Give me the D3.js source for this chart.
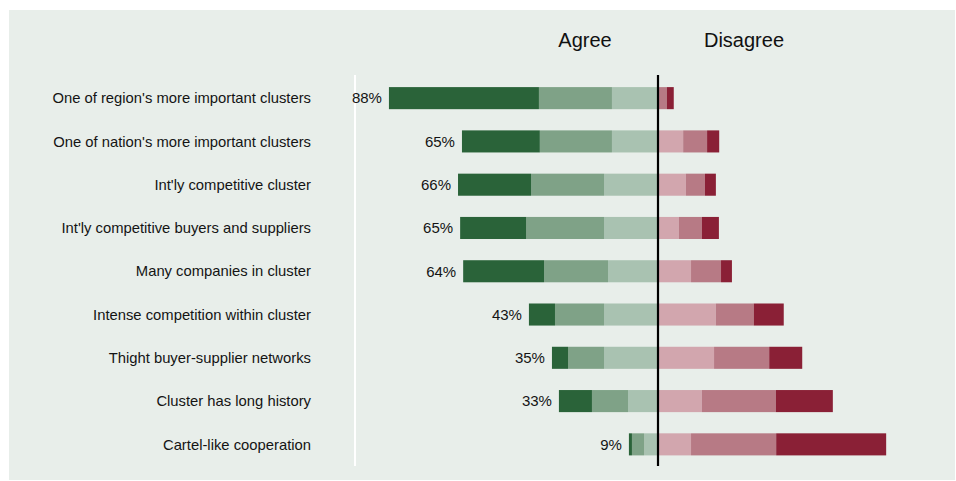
<!DOCTYPE html>
<html>
<head>
<meta charset="utf-8">
<script src="https://cdn.jsdelivr.net/npm/d3@7"></script>
<style>
  html, body { margin: 0; padding: 0; background: #fff; }
  svg { display: block; font-family: "Liberation Sans", Arial, sans-serif; }
</style>
</head>
<body>
<div id="chart"></div>
<script>
const categories = [
  "One of region's more important clusters",
  "One of nation's more important clusters",
  "Int'ly competitive cluster",
  "Int'ly competitive buyers and suppliers",
  "Many companies in cluster",
  "Intense competition within cluster",
  "Thight buyer-supplier networks",
  "Cluster has long history",
  "Cartel-like cooperation"
];
const agreeTotals = [88, 65, 66, 65, 64, 43, 35, 33, 9];
// agree segments, from the centre outward: somewhat, mostly, fully
const agreeLight = [15.2, 15.2, 17.8, 17.8, 16.5, 17.8, 17.8, 9.9, 4.6];
const agreeMid   = [24.1, 23.8, 24.1, 25.7, 21.1, 16.2, 11.9, 11.9, 4.0];
const agreeDark  = [49.5, 25.7, 24.1, 21.8, 26.7, 8.6, 5.3, 10.9, 1.0];
// disagree segments, from the centre outward
const disLight = [0.3, 8.3, 9.2, 6.9, 10.9, 19.1, 18.5, 14.5, 10.9];
const disMid   = [2.6, 7.9, 6.3, 7.6, 9.9, 12.5, 18.2, 24.4, 28.1];
const disDark  = [2.3, 4.0, 3.6, 5.6, 3.6, 9.9, 10.9, 18.8, 36.3];
const headers = ["Agree", "Disagree"];

const agreeColors = ["#a9c2b1", "#7fa287", "#2a6339"];
const disColors = ["#d2a6ae", "#b77a85", "#8a2036"];

const W = 956, H = 481;
const svg = d3.select("#chart").append("svg")
  .attr("width", W).attr("height", H);

svg.append("rect")
  .attr("x", 9).attr("y", 10).attr("width", 946).attr("height", 470)
  .attr("fill", "#e8eeea");

const center = 658;
const pxPerPct = 3.03;
const x = d3.scaleLinear()
  .domain([-100, 100])
  .range([center - 100 * pxPerPct, center + 100 * pxPerPct]);

const y = d3.scaleBand()
  .domain(categories)
  .range([76.5, 466])
  .paddingInner(0.49)
  .paddingOuter(0.245);

const rows = categories.map((c, i) => ({
  cat: c,
  total: agreeTotals[i],
  agree: [agreeLight[i], agreeMid[i], agreeDark[i]],
  dis: [disLight[i], disMid[i], disDark[i]]
}));

const segs = [];
rows.forEach(r => {
  let acc = 0;
  r.agree.forEach((v, k) => {
    segs.push({ cat: r.cat, x0: -(acc + v), x1: -acc, color: agreeColors[k] });
    acc += v;
  });
  acc = 0;
  r.dis.forEach((v, k) => {
    segs.push({ cat: r.cat, x0: acc, x1: acc + v, color: disColors[k] });
    acc += v;
  });
});

// white divider (behind the labels)
svg.append("line")
  .attr("x1", 355).attr("x2", 355).attr("y1", 75).attr("y2", 466)
  .attr("stroke", "#ffffff").attr("stroke-width", 2);

svg.append("g").selectAll("rect")
  .data(segs)
  .join("rect")
  .attr("x", d => x(d.x0))
  .attr("width", d => Math.max(0, x(d.x1) - x(d.x0)))
  .attr("y", d => y(d.cat))
  .attr("height", y.bandwidth())
  .attr("fill", d => d.color);

// category labels
svg.append("g").selectAll("text")
  .data(rows)
  .join("text")
  .attr("x", 311)
  .attr("y", d => y(d.cat) + y.bandwidth() / 2)
  .attr("dy", "0.35em")
  .attr("text-anchor", "end")
  .attr("font-size", 14.8)
  .attr("fill", "#141414")
  .text(d => d.cat);

// percent labels
svg.append("g").selectAll("text")
  .data(rows)
  .join("text")
  .attr("x", d => x(-d3.sum(d.agree)) - 7)
  .attr("y", d => y(d.cat) + y.bandwidth() / 2)
  .attr("dy", "0.35em")
  .attr("text-anchor", "end")
  .attr("font-size", 15)
  .attr("fill", "#141414")
  .text(d => d.total + "%");

// centre line
svg.append("line")
  .attr("x1", x(0)).attr("x2", x(0)).attr("y1", 75).attr("y2", 466)
  .attr("stroke", "#000").attr("stroke-width", 2.2);

svg.append("g").selectAll("text")
  .data(headers)
  .join("text")
  .attr("x", (d, i) => i === 0 ? 585 : 744)
  .attr("y", 47)
  .attr("text-anchor", "middle")
  .attr("font-size", 20)
  .attr("fill", "#111")
  .text(d => d);
</script>
</body>
</html>
